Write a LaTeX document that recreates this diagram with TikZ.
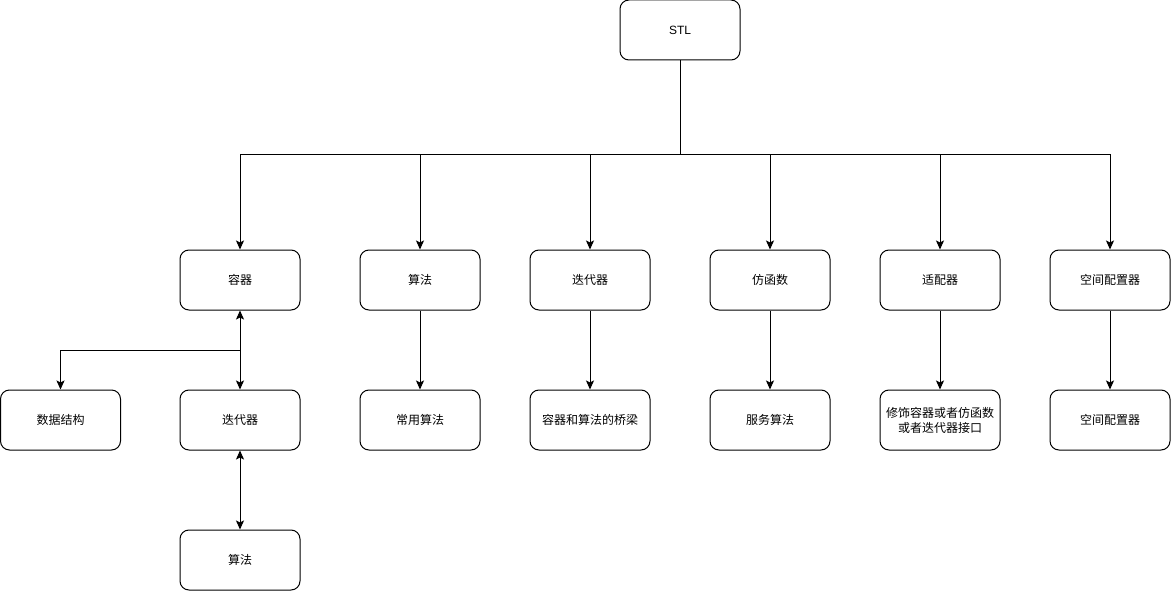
\documentclass[tikz,border=0pt]{standalone}
\usepackage{fontspec}
\setmainfont{Liberation Sans}
\newfontfamily\cjk{Noto Sans CJK SC}
\usetikzlibrary{arrows.meta}
\begin{document}
\begin{tikzpicture}[x=1pt,y=-1pt,
  box/.style={draw,line width=1pt,rounded corners=9pt,minimum width=120pt,minimum height=60pt,inner sep=0pt,align=center,font=\cjk\fontsize{12}{15}\selectfont},
  conn/.style={line width=1pt},
  arr/.style={conn,-{Stealth[length=9pt,width=8pt,inset=2pt]}},
  darr/.style={conn,{Stealth[length=9pt,width=8pt,inset=2pt]}-{Stealth[length=9pt,width=8pt,inset=2pt]}}]
\useasboundingbox (0,0) rectangle (1171,591);
\node[box,font=\rmfamily\fontsize{12}{15}\selectfont] (stl) at (680,30) {STL};
\node[box] (c1) at (240,280) {容器};
\node[box] (c2) at (420,280) {算法};
\node[box] (c3) at (590,280) {迭代器};
\node[box] (c4) at (770,280) {仿函数};
\node[box] (c5) at (940,280) {适配器};
\node[box] (c6) at (1110,280) {空间配置器};
\node[box] (d0) at (60.5,420) {数据结构};
\node[box] (d1) at (240,420) {迭代器};
\node[box] (d2) at (420,420) {常用算法};
\node[box] (d3) at (590,420) {容器和算法的桥梁};
\node[box] (d4) at (770,420) {服务算法};
\node[box] (d5) at (940,420) {修饰容器或者仿函数\\或者迭代器接口};
\node[box] (d6) at (1110,420) {空间配置器};
\node[box] (e1) at (240,560) {算法};
\coordinate (bus) at (680,155);
\coordinate (br) at (240,350);
\draw[conn] (stl.south) -- (bus);
\foreach \n in {c1,c2,c3,c4,c5,c6}{
  \draw[arr] (bus) -| (\n.north);
}
\draw[darr] (c1.south) -- (d1.north);
\draw[arr] (br) -| (d0.north);
\draw[darr] (d1.south) -- (e1.north);
\draw[arr] (c2.south) -- (d2.north);
\draw[arr] (c3.south) -- (d3.north);
\draw[arr] (c4.south) -- (d4.north);
\draw[arr] (c5.south) -- (d5.north);
\draw[arr] (c6.south) -- (d6.north);
\end{tikzpicture}
\end{document}
